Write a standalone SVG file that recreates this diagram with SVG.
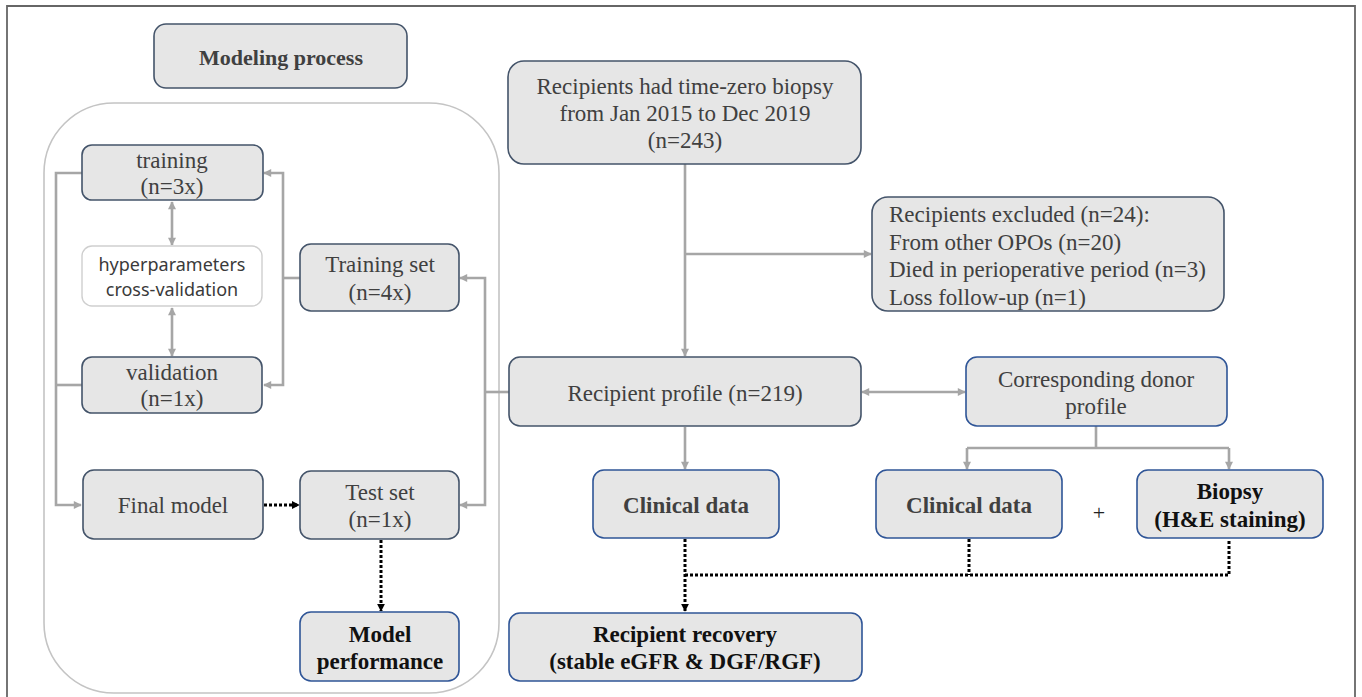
<svg xmlns="http://www.w3.org/2000/svg" width="1362" height="697" viewBox="0 0 1362 697">
<defs>
<marker id="ag" viewBox="0 0 10 10" refX="9" refY="5" markerWidth="9" markerHeight="8" markerUnits="userSpaceOnUse" orient="auto-start-reverse"><path d="M0,0 L10,5 L0,10 z" fill="#a6a6a6"/></marker>
<marker id="ab" viewBox="0 0 10 10" refX="9" refY="5" markerWidth="8" markerHeight="8" markerUnits="userSpaceOnUse" orient="auto"><path d="M0,0 L10,5 L0,10 z" fill="#000"/></marker>
<style>
.box{fill:#e6e6e6;stroke:#44546a;stroke-width:1.6}
.bb{fill:#e6e6e6;stroke:#2f5597;stroke-width:1.6}
.t{font-family:"Liberation Serif","Times New Roman",serif;font-size:23px;fill:#404040;text-anchor:middle}
.tl{text-anchor:start}
.b{font-weight:bold}
.k{fill:#111}
.s{font-family:"Noto Sans","DejaVu Sans",sans-serif;font-size:18px;fill:#3a3a3a;text-anchor:middle}
.g{fill:none;stroke:#a6a6a6;stroke-width:2.6}
.d{fill:none;stroke:#000;stroke-width:3;stroke-dasharray:3 2}
</style>
</defs>
<rect x="0" y="0" width="1362" height="697" fill="#fff"/>
<path d="M7,697 V6 H1355 V697" fill="none" stroke="#666" stroke-width="1.8"/>
<rect x="44" y="103" width="455" height="590" rx="70" fill="none" stroke="#c4c4c4" stroke-width="1.6"/>

<g id="connectors">
<path class="g" d="M82,173 H56 V505 H81" marker-end="url(#ag)"/>
<path class="g" d="M82,385 H56"/>
<path class="g" d="M300,278 H283"/>
<path class="g" d="M283,278 V173 H264" marker-end="url(#ag)"/>
<path class="g" d="M283,278 V385 H264" marker-end="url(#ag)"/>
<path class="g" d="M172,202 V245" marker-start="url(#ag)" marker-end="url(#ag)"/>
<path class="g" d="M172,308 V356" marker-start="url(#ag)" marker-end="url(#ag)"/>
<path class="g" d="M510,392 H485"/>
<path class="g" d="M485,392 V278 H460" marker-end="url(#ag)"/>
<path class="g" d="M485,392 V505 H460" marker-end="url(#ag)"/>
<path class="d" d="M264,505 H299" marker-end="url(#ab)"/>
<path class="d" d="M381,540 V611" marker-end="url(#ab)"/>
<path class="g" d="M685,164 V356" marker-end="url(#ag)"/>
<path class="g" d="M685,254 H871" marker-end="url(#ag)"/>
<path class="g" d="M862,392 H965" marker-start="url(#ag)" marker-end="url(#ag)"/>
<path class="g" d="M1096,426 V448"/>
<path class="g" d="M967,448 H1229"/>
<path class="g" d="M967,448 V469" marker-end="url(#ag)"/>
<path class="g" d="M1229,448 V469" marker-end="url(#ag)"/>
<path class="g" d="M685,427 V469" marker-end="url(#ag)"/>
<path class="d" d="M685,539 V611" marker-end="url(#ab)"/>
<path class="d" d="M685,575 H1229 V539"/>
<path class="d" d="M969,539 V575"/>
</g>

<g id="modeling-process">
<rect class="box" x="154" y="24" width="253" height="64" rx="12"/>
<text class="t b" x="281" y="65" style="font-size:22px">Modeling process</text>
</g>
<g id="training">
<rect class="box" x="82" y="145" width="181" height="55" rx="10"/>
<text class="t" x="172" y="168">training</text>
<text class="t" x="172" y="194">(n=3x)</text>
</g>
<g id="hyperparameters">
<rect x="82" y="246" width="180" height="60" rx="10" fill="#fff" stroke="#cfcfcf" stroke-width="1.4"/>
<text class="s" x="172" y="271">hyperparameters</text>
<text class="s" x="172" y="296">cross-validation</text>
</g>
<g id="validation">
<rect class="box" x="82" y="357" width="180" height="56" rx="10"/>
<text class="t" x="172" y="380">validation</text>
<text class="t" x="172" y="406">(n=1x)</text>
</g>
<g id="training-set">
<rect class="box" x="300" y="244" width="159" height="67" rx="11"/>
<text class="t" x="380" y="272">Training set</text>
<text class="t" x="380" y="300">(n=4x)</text>
</g>
<g id="final-model">
<rect class="box" x="83" y="470" width="180" height="69" rx="11"/>
<text class="t" x="173" y="513">Final model</text>
</g>
<g id="test-set">
<rect class="box" x="300" y="471" width="159" height="68" rx="11"/>
<text class="t" x="380" y="500">Test set</text>
<text class="t" x="380" y="527">(n=1x)</text>
</g>
<g id="model-performance">
<rect class="bb" x="300" y="612" width="159" height="69" rx="11"/>
<text class="t b k" x="380" y="642">Model</text>
<text class="t b k" x="380" y="669">performance</text>
</g>
<g id="recipients-biopsy">
<rect class="box" x="508" y="61" width="353" height="103" rx="16"/>
<text class="t" x="685" y="94">Recipients had time-zero biopsy</text>
<text class="t" x="685" y="121">from Jan 2015 to Dec 2019</text>
<text class="t" x="685" y="148">(n=243)</text>
</g>
<g id="recipients-excluded">
<rect class="box" x="872" y="197" width="352" height="114" rx="16"/>
<text class="t tl" x="889" y="222">Recipients excluded (n=24):</text>
<text class="t tl" x="889" y="250">From other OPOs (n=20)</text>
<text class="t tl" x="889" y="277">Died in perioperative period (n=3)</text>
<text class="t tl" x="889" y="305">Loss follow-up (n=1)</text>
</g>
<g id="recipient-profile">
<rect class="box" x="509" y="357" width="352" height="69" rx="11"/>
<text class="t" x="685" y="401">Recipient profile (n=219)</text>
</g>
<g id="donor-profile">
<rect class="bb" x="966" y="357" width="261" height="69" rx="11"/>
<text class="t" x="1096" y="387">Corresponding donor</text>
<text class="t" x="1096" y="414">profile</text>
</g>
<g id="clinical-data-recipient">
<rect class="bb" x="593" y="470" width="186" height="68" rx="11"/>
<text class="t b" x="686" y="513">Clinical data</text>
</g>
<g id="clinical-data-donor">
<rect class="bb" x="876" y="470" width="186" height="68" rx="11"/>
<text class="t b" x="969" y="513">Clinical data</text>
</g>
<g id="plus">
<text class="t" x="1099" y="520" style="font-size:22px;fill:#222">+</text>
</g>
<g id="biopsy">
<rect class="bb" x="1137" y="470" width="186" height="68" rx="11"/>
<text class="t b k" x="1230" y="499">Biopsy</text>
<text class="t b k" x="1230" y="527">(H&amp;E staining)</text>
</g>
<g id="recipient-recovery">
<rect class="bb" x="509" y="613" width="353" height="68" rx="11"/>
<text class="t b k" x="685" y="642">Recipient recovery</text>
<text class="t b k" x="685" y="669">(stable eGFR &amp; DGF/RGF)</text>
</g>
</svg>
